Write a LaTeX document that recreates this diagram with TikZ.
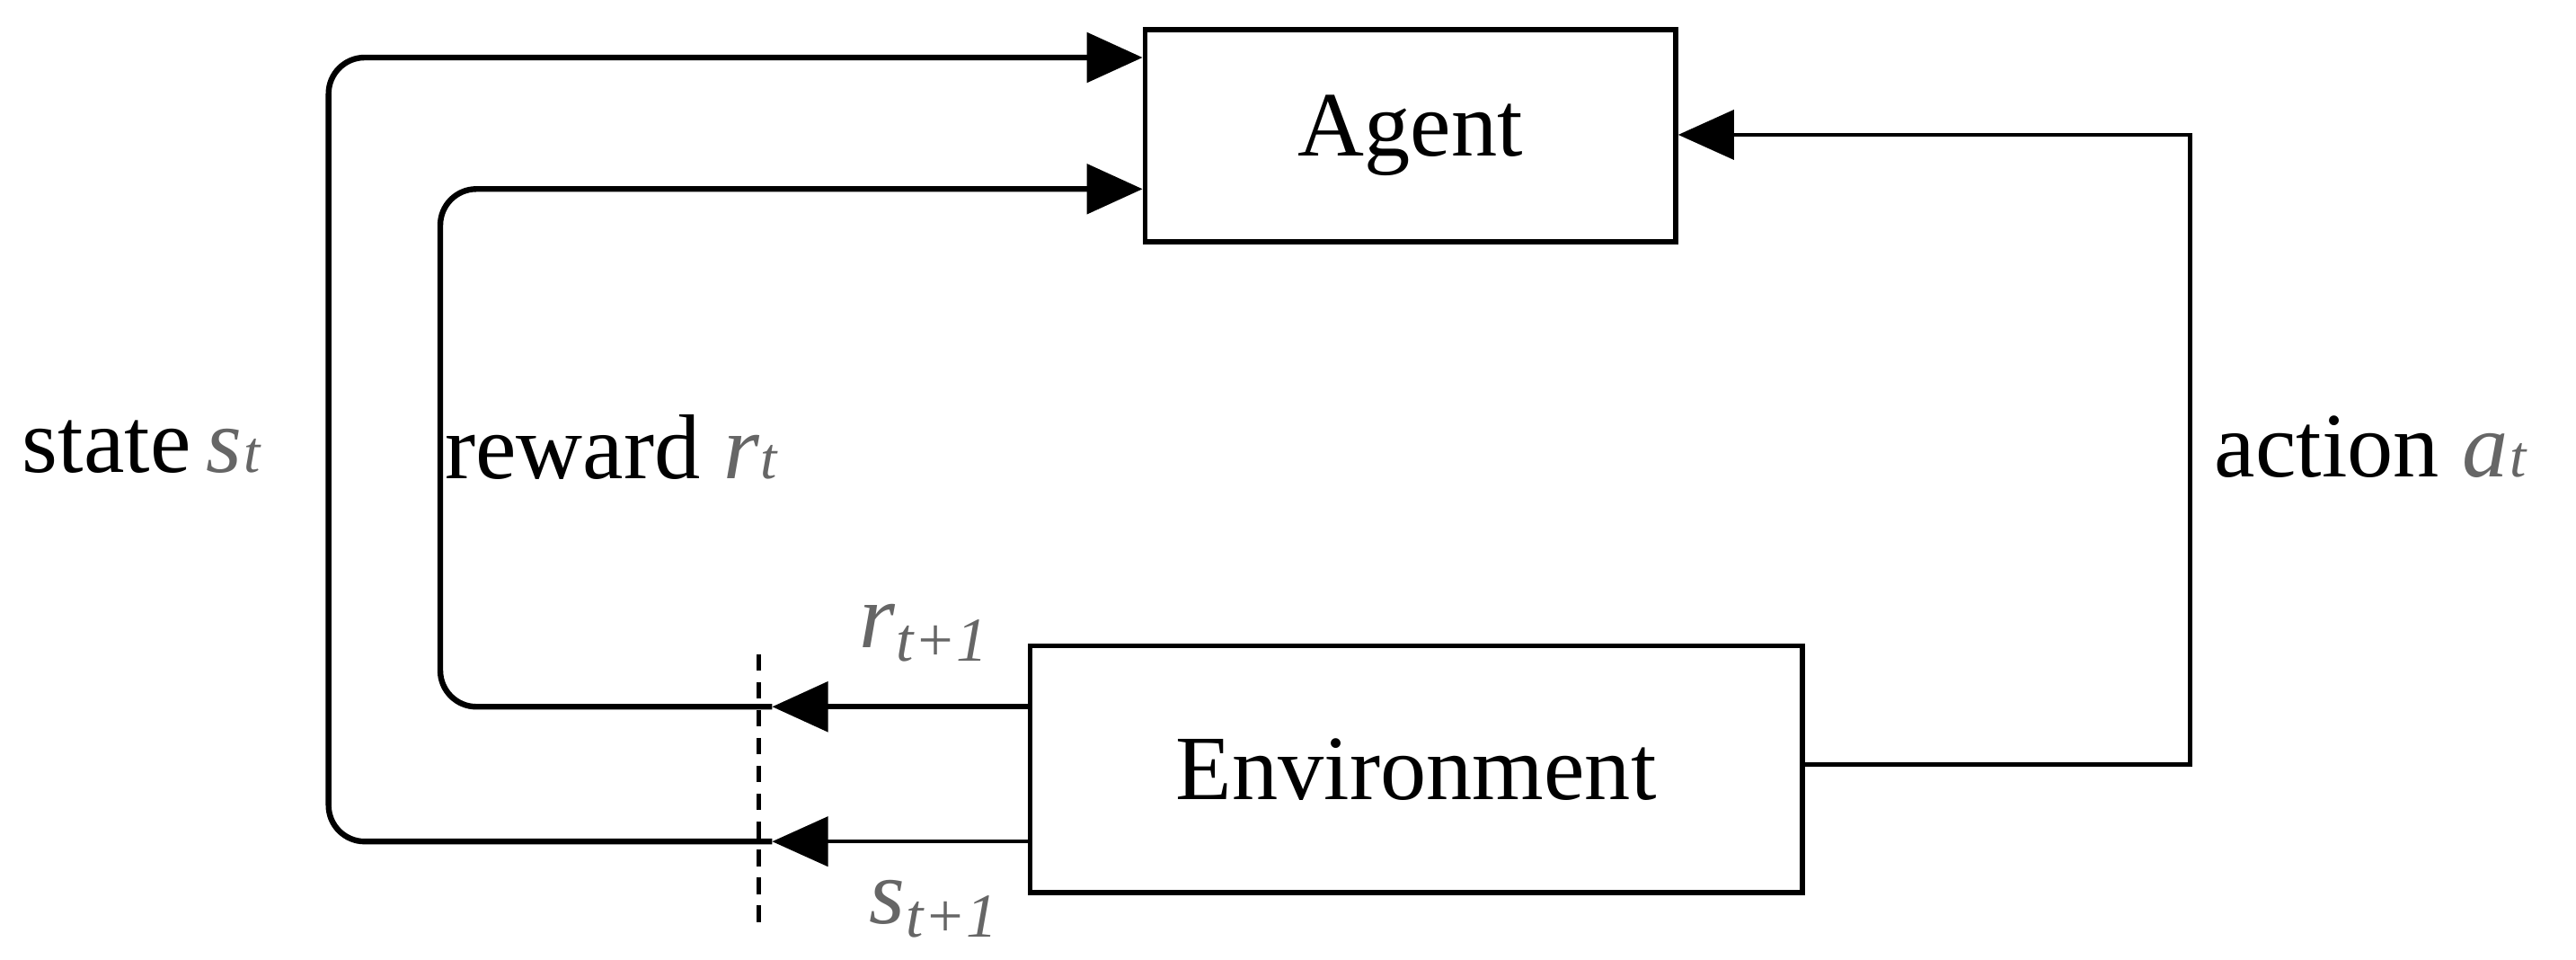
\documentclass[tikz,border=0pt]{standalone}
\usepackage{fontspec}
\setmainfont{Liberation Serif}
\usetikzlibrary{arrows.meta}
\begin{document}
\begin{tikzpicture}[x=1pt,y=-1pt,
  box/.style={draw,line width=3pt,inner sep=0pt},
  ln/.style={line width=3.5pt,rounded corners=22pt},
  arr/.style={-{Triangle[length=34pt,width=30pt]}},
  lab/.style={font=\fontsize{56}{60}\selectfont}]
\useasboundingbox (0,0) rectangle (1568,584);
\node[box,minimum width=323pt,minimum height=129pt,lab] (agent) at (858.5,82.5) {Agent};
\node[box,minimum width=470pt,minimum height=150pt,lab] (env) at (862,468) {Environment};
\coordinate (ar) at (1333,82);
\coordinate (er) at (1333,465);
\draw[line width=2.5pt,arr] (env.east |- er) -- (er) -- (ar) -- (agent.east |- ar);
% reward
\coordinate (rb) at (268,430);
\coordinate (rt) at (268,115);
\coordinate (rm) at (470,430);
\draw[ln,arr] (env.west |- rb) -- (rm);
\draw[ln,arr] (rm) -- (rb) -- (rt) -- (agent.west |- rt);
% state
\coordinate (sb) at (200,512);
\coordinate (st) at (200,35);
\coordinate (sm) at (470,512);
\draw[ln,line width=2.5pt,arr] (env.west |- sb) -- (sm);
\draw[ln,arr] (sm) -- (sb) -- (st) -- (agent.west |- st);
% dashed
\coordinate (d1) at (462,398);
\coordinate (d2) at (462,565);
\draw[line width=2.5pt,dash pattern=on 10pt off 7pt] (d1) -- (d2);
% labels
\node[lab] (ls) at (86,272) {state\,{\itshape\color{black!60}s\kern1pt{\fontsize{36}{38}\selectfont t}}};
\node[lab] (lr) at (372,272) {reward {\itshape\color{black!60}r\kern1pt{\fontsize{36}{38}\selectfont t}}};
\node[lab] (la) at (1443,272) {action {\itshape\color{black!60}a\kern1pt{\fontsize{36}{38}\selectfont t}}};
\node[lab] (lr1) at (562,385) {\itshape\color{black!60}r\kern1pt\raisebox{-8pt}{\fontsize{38}{40}\selectfont t+1}};
\node[lab] (ls1) at (568,553) {\itshape\color{black!60}s\kern1pt\raisebox{-8pt}{\fontsize{38}{40}\selectfont t+1}};
\end{tikzpicture}
\end{document}
